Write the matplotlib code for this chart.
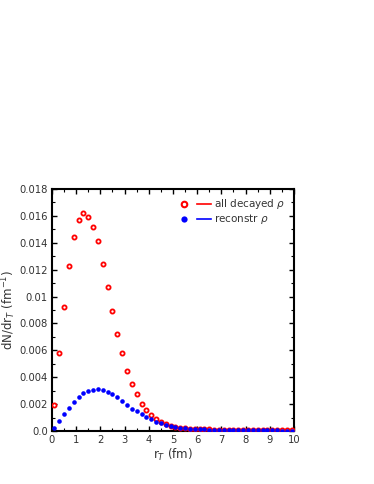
import matplotlib
matplotlib.use("Agg")
import matplotlib.pyplot as plt
from matplotlib.lines import Line2D
from matplotlib.legend_handler import HandlerTuple
from matplotlib.ticker import MultipleLocator, FuncFormatter

# r_T bin centres (fm)
r_t = [0.1, 0.3, 0.5, 0.7, 0.9, 1.1, 1.3, 1.5, 1.7, 1.9,
       2.1, 2.3, 2.5, 2.7, 2.9, 3.1, 3.3, 3.5, 3.7, 3.9,
       4.1, 4.3, 4.5, 4.7, 4.9, 5.1, 5.3, 5.5, 5.7, 5.9,
       6.1, 6.3, 6.5, 6.7, 6.9, 7.1, 7.3, 7.5, 7.7, 7.9,
       8.1, 8.3, 8.5, 8.7, 8.9, 9.1, 9.3, 9.5, 9.7, 9.9]

all_decayed = [0.0019, 0.0058, 0.0092, 0.0123, 0.0144, 0.0157, 0.0162, 0.0159, 0.0152, 0.0141,
               0.0124, 0.0107, 0.0089, 0.0072, 0.0058, 0.0045, 0.0035, 0.00275, 0.0020, 0.00156,
               0.0012, 0.0009, 0.0007, 0.0005, 0.0004, 0.00032, 0.00026, 0.00021, 0.00018, 0.00016,
               0.00014, 0.00013, 0.00012, 0.00011, 0.0001, 0.0001, 0.00009, 0.00008, 0.00008, 0.00007,
               0.00007, 0.00006, 0.00006, 0.00005, 0.00005, 0.00005, 0.00004, 0.00004, 0.00004, 0.00004]

reconstr = [0.0002, 0.00072, 0.00125, 0.0017, 0.00213, 0.0025, 0.0028, 0.00298, 0.00305, 0.00313,
            0.00305, 0.0029, 0.00277, 0.0025, 0.00226, 0.00193, 0.00164, 0.00146, 0.00123, 0.00107,
            0.0009, 0.0007, 0.00057, 0.00045, 0.00037, 0.0003, 0.00026, 0.00022, 0.00018, 0.00016,
            0.00014, 0.00012, 0.00011, 0.0001, 0.00009, 0.00009, 0.00008, 0.00007, 0.00007, 0.00006,
            0.00006, 0.00005, 0.00005, 0.00005, 0.00004, 0.00004, 0.00004, 0.00003, 0.00003, 0.00003]

labels = ["all decayed $\\rho$", "reconstr $\\rho$"]

plt.rcParams["font.family"] = "DejaVu Sans"

fig = plt.figure(figsize=(3.74, 4.84), dpi=100)
ax = fig.add_axes([0.139, 0.1095, 0.647, 0.5])

ax.plot(r_t, all_decayed, "o", ms=3.0, mew=1.3, mfc="white", mec="red", ls="none", zorder=3)
ax.plot(r_t, reconstr, "o", ms=3.3, mew=0, mfc="blue", ls="none", zorder=4)

ax.set_xlim(0, 10)
ax.set_ylim(0, 0.018)
ax.xaxis.set_major_locator(MultipleLocator(1))
ax.xaxis.set_minor_locator(MultipleLocator(0.5))
ax.yaxis.set_major_locator(MultipleLocator(0.002))
ax.yaxis.set_minor_locator(MultipleLocator(0.001))
ax.yaxis.set_major_formatter(FuncFormatter(lambda v, p: "0.0" if abs(v) < 1e-9 else "%g" % round(v, 4)))
ax.tick_params(which="both", direction="in", top=True, right=True, labelsize=7.2, colors="black", labelcolor="#333333")
ax.tick_params(which="major", length=3.5, width=1, pad=3)
ax.tick_params(which="minor", length=2, width=0.8)
for s in ax.spines.values():
    s.set_linewidth(1.5)

ax.set_xlabel("r$_T$ (fm)", fontsize=8.5, color="#333333")
ax.set_ylabel("dN/dr$_T$ (fm$^{-1}$)", fontsize=8.5, color="#333333")
ax.xaxis.set_label_coords(0.5, -0.1, transform=ax.transAxes)
ax.yaxis.set_label_coords(-0.178, 0.5, transform=ax.transAxes)
ax.xaxis.label.set_va("center")
ax.yaxis.label.set_va("center")

h1 = (Line2D([], [], marker="o", ms=4, mew=1.5, mfc="white", mec="red", ls="none"),
      Line2D([], [], color="red", lw=1.2))
h2 = (Line2D([], [], marker="o", ms=4.5, mew=0, mfc="blue", ls="none"),
      Line2D([], [], color="blue", lw=1.2))
leg = ax.legend([h1, h2], labels, loc="upper right", bbox_to_anchor=(1.0, 1.0),
                handler_map={tuple: HandlerTuple(ndivide=None, pad=0.5)},
                frameon=False, fontsize=7.5, handlelength=3.3, handletextpad=0.3,
                labelspacing=0.1, borderaxespad=0.4)
for t in leg.get_texts():
    t.set_color("#333333")

fig.savefig("out.png", dpi=100)
